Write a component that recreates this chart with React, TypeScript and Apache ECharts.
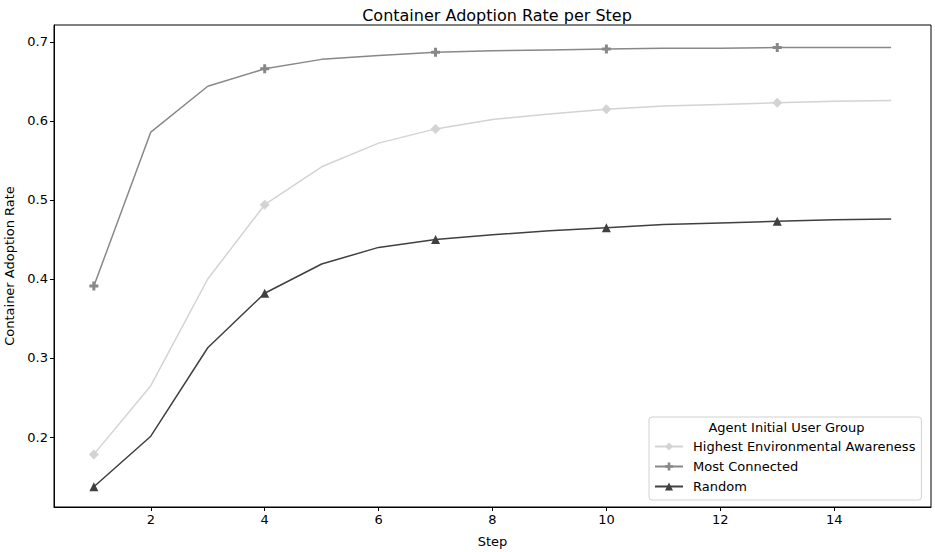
import React, { useEffect, useRef } from "react";
import * as echarts from "echarts";

const steps = [1, 2, 3, 4, 5, 6, 7, 8, 9, 10, 11, 12, 13, 14, 15];
const highestEnv = [0.178, 0.265, 0.4, 0.494, 0.542, 0.572, 0.59, 0.602, 0.609, 0.615, 0.619, 0.621, 0.623, 0.625, 0.626];
const mostConnected = [0.391, 0.586, 0.644, 0.666, 0.678, 0.683, 0.687, 0.689, 0.69, 0.691, 0.692, 0.692, 0.693, 0.693, 0.693];
const randomGroup = [0.137, 0.201, 0.313, 0.382, 0.419, 0.44, 0.45, 0.456, 0.461, 0.465, 0.469, 0.471, 0.473, 0.475, 0.476];
const markerSteps = [1, 4, 7, 10, 13];
const xTicks = [2, 4, 6, 8, 10, 12, 14];
const yTicks = [0.2, 0.3, 0.4, 0.5, 0.6, 0.7];
const seriesNames = ["Highest Environmental Awareness", "Most Connected", "Random"];

const PLUS = "path://M-1,-3L1,-3L1,-1L3,-1L3,1L1,1L1,3L-1,3L-1,1L-3,1L-3,-1L-1,-1Z";

export default function App() {
  const ref = useRef<HTMLDivElement>(null);
  useEffect(() => {
    document.body.style.margin = "0";
    const chart = echarts.init(ref.current!, null, { renderer: "svg" });
    const font = "DejaVu Sans";
    const mk = (name: string, vals: number[], color: string, symbol: string, size: number) => ({
      name,
      type: "line",
      symbol,
      symbolSize: size,
      showAllSymbol: true,
      lineStyle: { color, width: 1.5 },
      itemStyle: { color, borderWidth: 0 },
      emphasis: { disabled: true },
      data: steps.map((s, i) =>
        markerSteps.includes(s) ? [s, vals[i]] : { value: [s, vals[i]], symbol: "none" }
      ),
    });
    chart.setOption({
      animation: false,
      textStyle: { fontFamily: font },
      title: {
        text: "Container Adoption Rate per Step",
        left: 492,
        textAlign: "center",
        top: 2,
        textStyle: { fontFamily: font, fontSize: 16, fontWeight: "normal", color: "#000" },
      },
      grid: {
        left: 54,
        top: 25,
        right: 4,
        bottom: 45,
        containLabel: false,
        outerBoundsMode: "none",
        show: true,
        borderColor: "#000",
        borderWidth: 1,
      },
      xAxis: {
        type: "value",
        min: 0.3,
        max: 15.7,
        name: "Step",
        nameLocation: "middle",
        nameGap: 28,
        nameTextStyle: { fontFamily: font, fontSize: 13, color: "#000" },
        splitLine: { show: false },
        axisLine: { lineStyle: { color: "#000" } },
        axisTick: { customValues: xTicks, length: 4, lineStyle: { color: "#000" } },
        axisLabel: { customValues: xTicks, fontFamily: font, fontSize: 13, color: "#000", margin: 6 },
      },
      yAxis: {
        type: "value",
        min: 0.1114,
        max: 0.7215,
        name: "Container Adoption Rate",
        nameLocation: "middle",
        nameGap: 38,
        nameTextStyle: { fontFamily: font, fontSize: 13, color: "#000" },
        splitLine: { show: false },
        axisLine: { show: true, lineStyle: { color: "#000" } },
        axisTick: { show: true, customValues: yTicks, length: 4, lineStyle: { color: "#000" } },
        axisLabel: {
          customValues: yTicks,
          fontFamily: font,
          fontSize: 13,
          color: "#000",
          margin: 6,
          formatter: (v: number) => v.toFixed(1),
        },
      },
      legend: {
        orient: "vertical",
        left: 649,
        top: 417,
        padding: [23, 6, 7, 5],
        itemGap: 7,
        itemWidth: 28,
        itemHeight: 10,
        backgroundColor: "rgba(255,255,255,0.8)",
        borderColor: "#d0d0d0",
        borderWidth: 1,
        borderRadius: 3,
        textStyle: { fontFamily: font, fontSize: 13, color: "#000", padding: [0, 0, 0, 5] },
        data: seriesNames,
      },
      graphic: [
        {
          type: "text",
          x: 786.5,
          y: 427,
          z: 100,
          style: {
            text: "Agent Initial User Group",
            font: `13px ${font}`,
            fill: "#000",
            textAlign: "center",
            textVerticalAlign: "middle",
          },
        },
      ],
      series: [
        mk(seriesNames[0], highestEnv, "#d3d3d3", "diamond", 10),
        mk(seriesNames[1], mostConnected, "#888888", PLUS, 9),
        mk(seriesNames[2], randomGroup, "#404040", "triangle", 9),
      ],
    });
    return () => chart.dispose();
  }, []);
  return <div ref={ref} style={{ width: 935, height: 552 }} />;
}
